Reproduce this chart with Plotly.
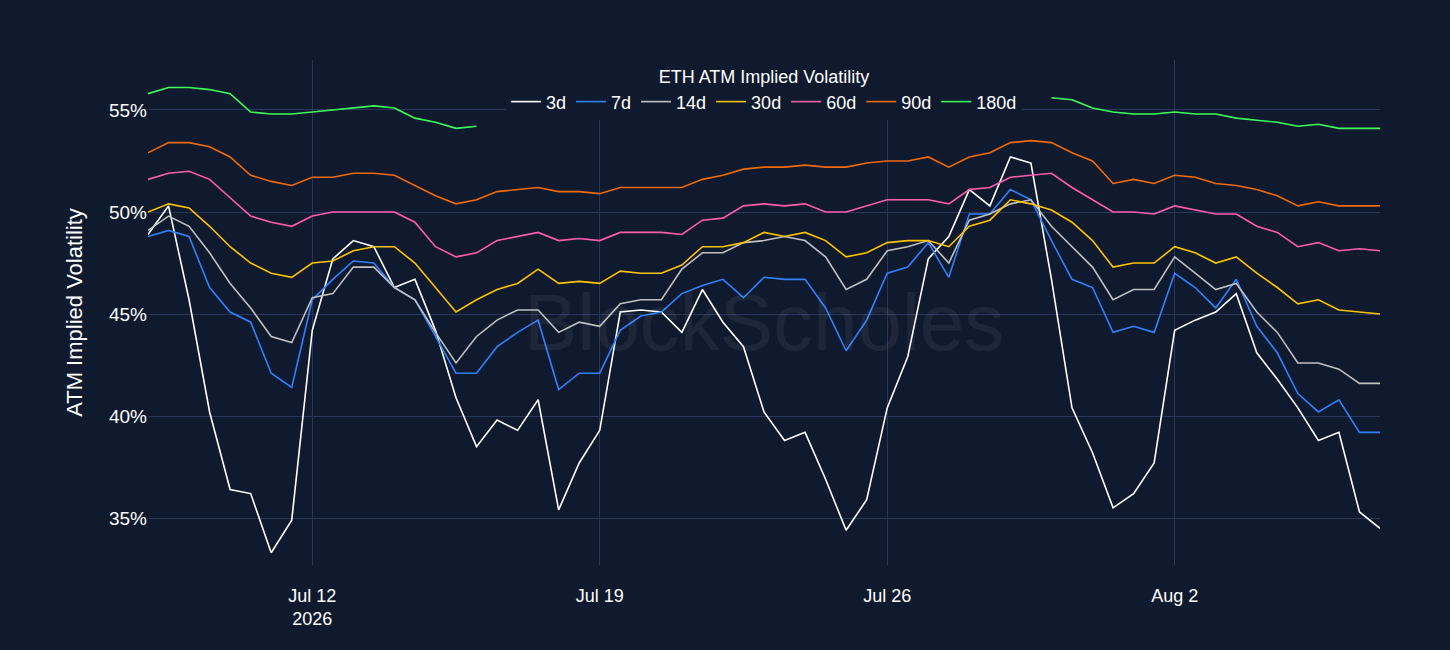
import plotly.graph_objects as go
import pandas as pd

# 12-hourly samples, Jul 8 00:00 -> Aug 7 00:00
times = pd.date_range("2026-07-08 00:00", periods=61, freq="12h")

vol_3d = [48.9, 50.3, 45.7, 40.2, 36.4, 36.2, 33.3, 34.9, 44.2, 47.7, 48.6, 48.3, 46.3, 46.7, 44.2, 40.9,
          38.5, 39.8, 39.3, 40.8, 35.4, 37.7, 39.3, 45.1, 45.2, 45.1, 44.1, 46.2, 44.6, 43.4, 40.2, 38.8,
          39.2, 36.9, 34.4, 35.9, 40.4, 42.9, 47.7, 48.8, 51.1, 50.3, 52.7, 52.4, 46.7, 40.4, 38.2, 35.5,
          36.2, 37.7, 44.2, 44.7, 45.1, 46.0, 43.1, 41.8, 40.4, 38.8, 39.2, 35.3, 34.5]
vol_7d = [48.8, 49.1, 48.8, 46.3, 45.1, 44.6, 42.1, 41.4, 45.7, 46.7, 47.6, 47.5, 46.3, 45.7, 43.9, 42.1,
          42.1, 43.4, 44.1, 44.7, 41.3, 42.1, 42.1, 44.2, 44.9, 45.1, 46.0, 46.4, 46.7, 45.8, 46.8, 46.7,
          46.7, 45.3, 43.2, 44.7, 47.0, 47.3, 48.5, 46.8, 49.9, 49.9, 51.1, 50.6, 48.6, 46.7, 46.3, 44.1,
          44.4, 44.1, 47.0, 46.3, 45.3, 46.7, 44.4, 43.1, 41.1, 40.2, 40.8, 39.2, 39.2]
vol_14d = [49.1, 49.8, 49.3, 48.0, 46.5, 45.3, 43.9, 43.6, 45.8, 46.0, 47.3, 47.3, 46.3, 45.7, 44.1, 42.6,
           43.9, 44.7, 45.2, 45.2, 44.1, 44.6, 44.4, 45.5, 45.7, 45.7, 47.2, 48.0, 48.0, 48.5, 48.6, 48.8,
           48.6, 47.8, 46.2, 46.7, 48.1, 48.3, 48.6, 47.5, 49.6, 49.9, 50.4, 50.6, 49.3, 48.3, 47.3, 45.7,
           46.2, 46.2, 47.8, 47.0, 46.2, 46.5, 45.1, 44.1, 42.6, 42.6, 42.3, 41.6, 41.6]
vol_30d = [50.0, 50.4, 50.2, 49.3, 48.3, 47.5, 47.0, 46.8, 47.5, 47.6, 48.1, 48.3, 48.3, 47.5, 46.3, 45.1,
           45.7, 46.2, 46.5, 47.2, 46.5, 46.6, 46.5, 47.1, 47.0, 47.0, 47.4, 48.3, 48.3, 48.5, 49.0, 48.8,
           49.0, 48.6, 47.8, 48.0, 48.5, 48.6, 48.6, 48.3, 49.3, 49.6, 50.6, 50.4, 50.1, 49.5, 48.6, 47.3,
           47.5, 47.5, 48.3, 48.0, 47.5, 47.8, 47.0, 46.3, 45.5, 45.7, 45.2, 45.1, 45.0]
vol_60d = [51.6, 51.9, 52.0, 51.6, 50.7, 49.8, 49.5, 49.3, 49.8, 50.0, 50.0, 50.0, 50.0, 49.5, 48.3, 47.8,
           48.0, 48.6, 48.8, 49.0, 48.6, 48.7, 48.6, 49.0, 49.0, 49.0, 48.9, 49.6, 49.7, 50.3, 50.4, 50.3,
           50.4, 50.0, 50.0, 50.3, 50.6, 50.6, 50.6, 50.4, 51.1, 51.2, 51.7, 51.8, 51.9, 51.2, 50.6, 50.0,
           50.0, 49.9, 50.3, 50.1, 49.9, 49.9, 49.3, 49.0, 48.3, 48.5, 48.1, 48.2, 48.1]
vol_90d = [52.9, 53.4, 53.4, 53.2, 52.7, 51.8, 51.5, 51.3, 51.7, 51.7, 51.9, 51.9, 51.8, 51.3, 50.8, 50.4,
           50.6, 51.0, 51.1, 51.2, 51.0, 51.0, 50.9, 51.2, 51.2, 51.2, 51.2, 51.6, 51.8, 52.1, 52.2, 52.2,
           52.3, 52.2, 52.2, 52.4, 52.5, 52.5, 52.7, 52.2, 52.7, 52.9, 53.4, 53.5, 53.4, 52.9, 52.5, 51.4,
           51.6, 51.4, 51.8, 51.7, 51.4, 51.3, 51.1, 50.8, 50.3, 50.5, 50.3, 50.3, 50.3]
vol_180d = ([55.8, 56.1, 56.1, 56.0, 55.8, 54.9, 54.8, 54.8, 54.9, 55.0, 55.1, 55.2, 55.1, 54.6, 54.4, 54.1, 54.2]
            + [None] * 27
            + [55.6, 55.5, 55.1, 54.9, 54.8, 54.8, 54.9, 54.8, 54.8, 54.6, 54.5, 54.4, 54.2, 54.3, 54.1, 54.1, 54.1])

tenors = ["3d", "7d", "14d", "30d", "60d", "90d", "180d"]
series = [vol_3d, vol_7d, vol_14d, vol_30d, vol_60d, vol_90d, vol_180d]
colors = ["#ffffff", "#2f80ff", "#c0c0c0", "#ffc400", "#ff5cb0", "#f06a0a", "#3dff5a"]
ytick_vals = [35, 40, 45, 50, 55]
ytick_text = ["35%", "40%", "45%", "50%", "55%"]

bg = "#101a2e"
fig = go.Figure()
for name, ys, c in zip(tenors, series, colors):
    fig.add_trace(go.Scatter(x=times, y=ys, name=name, mode="lines",
                             line=dict(color=c, width=1.6), connectgaps=False))

fig.update_layout(
    width=1450, height=650,
    paper_bgcolor=bg, plot_bgcolor=bg,
    margin=dict(l=148, r=70, t=60, b=85),
    font=dict(family="Liberation Sans", color="white", size=18),
    legend=dict(orientation="h", x=0.5, xanchor="center", y=1.0, yanchor="top",
                bgcolor=bg, font=dict(size=18),
                title=dict(text="ETH ATM Implied Volatility", side="top center", font=dict(size=18))),
    annotations=[dict(text="BlockScholes", x=0.5, y=0.48, xref="paper", yref="paper",
                      showarrow=False, font=dict(size=80, color="rgba(255,255,255,0.06)"))],
)
fig.update_xaxes(showgrid=True, gridcolor="#26375a", zeroline=False,
                 tickfont=dict(size=18), showline=False, ticklabelstandoff=18)
fig.update_yaxes(showgrid=True, gridcolor="#26375a", zeroline=False,
                 range=[32.7, 57.45], tickmode="array", tickvals=ytick_vals, ticktext=ytick_text,
                 tickfont=dict(size=19), title=dict(text="ATM Implied Volatility", font=dict(size=22),
                                                    standoff=20))

fig.write_html("out.html", config={"displayModeBar": False},
               post_script="document.body.style.margin='0';")
